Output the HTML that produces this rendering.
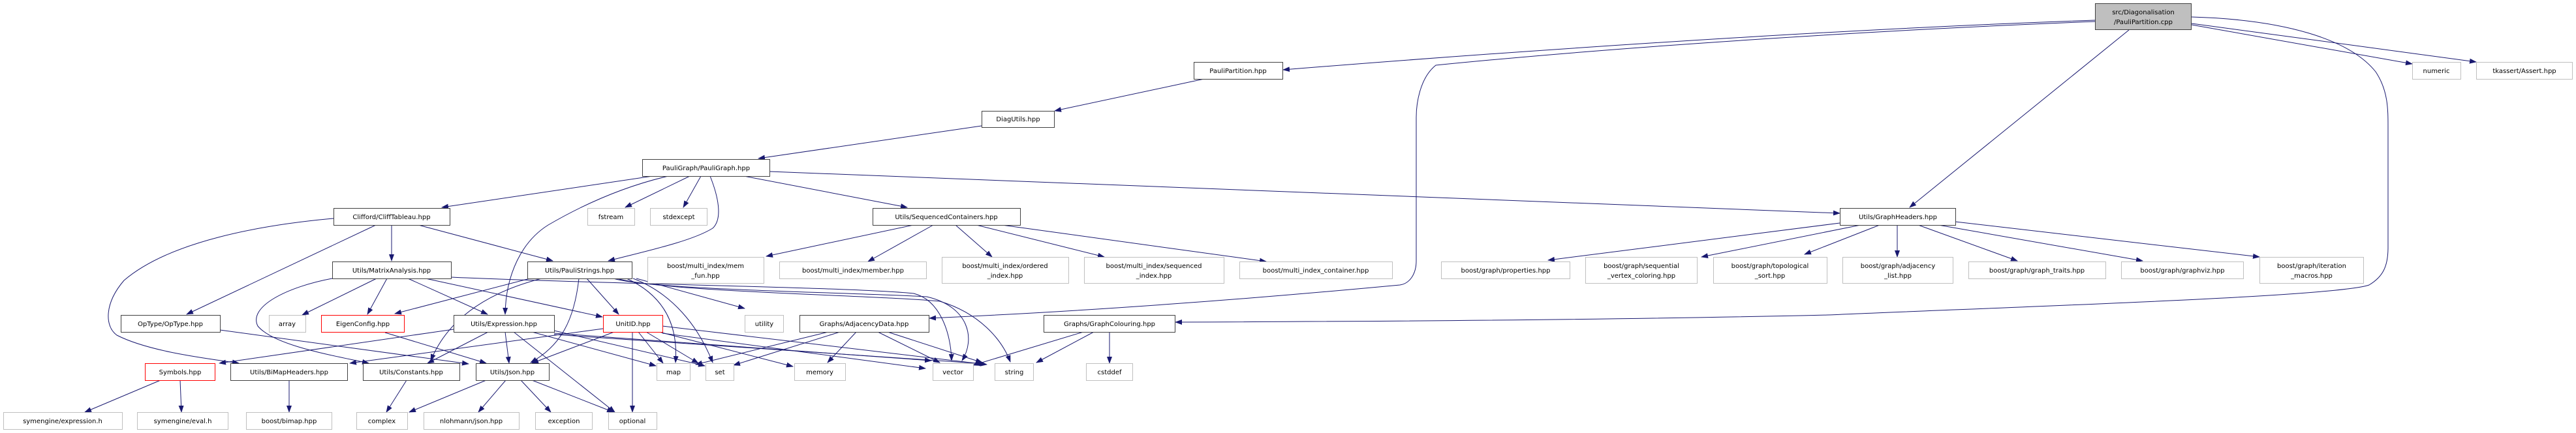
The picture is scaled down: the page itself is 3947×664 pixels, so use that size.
<!DOCTYPE html>
<html><head><meta charset="utf-8"><style>
html,body{margin:0;padding:0;background:#fff;}
svg{display:block;}
text{font-family:"DejaVu Sans","Liberation Sans",sans-serif;font-size:10px;fill:#000;text-anchor:middle;}
.d{fill:#fff;stroke:#404040;stroke-width:1;}
.e{fill:#fff;stroke:#bfbfbf;stroke-width:1;}
.r{fill:#fff;stroke:#ff0000;stroke-width:1;}
.s{fill:#bfbfbf;stroke:#404040;stroke-width:1;}
path{fill:none;stroke:#191970;stroke-width:1;}
</style></head><body>
<svg width="3947" height="664" viewBox="0 0 3947 664" xmlns="http://www.w3.org/2000/svg">
<defs><marker id="a" markerWidth="11" markerHeight="8" refX="10" refY="4" orient="auto" markerUnits="userSpaceOnUse"><polygon points="0,0 11,4 0,8" fill="#191970"/></marker></defs>
<g marker-end="url(#a)">
<!-- src -->
<path d="M3210,31 C2800,45 2300,80 1966,107"/>
<path d="M3210,33 C2900,45 2500,70 2200,100 C2175,120 2170,160 2170,180 L2170,400 C2170,420 2160,435 2145,437 C1900,460 1650,478 1424,488"/>
<path d="M3262,46 L2926,318"/>
<path d="M3358,38 L3696,98"/>
<path d="M3358,36 L3794,95"/>
<path d="M3358,26 C3500,30 3600,60 3640,110 C3660,140 3659,170 3659,200 L3659,380 C3659,410 3650,425 3630,437 C3580,455 3100,470 2800,483 C2500,490 2100,493 1801,494"/>
<!-- PP, Diag -->
<path d="M1845,121 L1616,170"/>
<path d="M1504,193 L1162,243"/>
<!-- PG -->
<path d="M1179,263 L2819,327"/>
<path d="M1000,270 L677,318"/>
<path d="M1024,270 C960,285 900,310 840,345 C800,370 775,420 774,482"/>
<path d="M1057,270 L958,318"/>
<path d="M1074,270 L1047,318"/>
<path d="M1088,270 C1100,300 1108,335 1092,350 C1060,370 990,385 932,400"/>
<path d="M1140,270 L1390,318"/>
<!-- Cliff -->
<path d="M600,345 L600,400"/>
<path d="M576,345 L286,482"/>
<path d="M511,335 C400,345 260,370 190,430 C160,465 160,500 179,514 C230,540 320,550 366,557"/>
<path d="M641,345 L847,400"/>
<!-- MA -->
<path d="M577,427 L463,483"/>
<path d="M593,427 L563,482"/>
<path d="M509,427 C440,440 380,470 395,500 C420,530 510,545 565,557"/>
<path d="M625,427 L747,482"/>
<path d="M652,427 L923,486"/>
<path d="M691,425 C900,435 1300,440 1400,450 C1440,460 1457,510 1458,553"/>
<!-- PS -->
<path d="M812,427 L605,481"/>
<path d="M830,427 C760,445 690,480 660,553"/>
<path d="M887,427 C880,490 860,530 813,556"/>
<path d="M899,427 L948,482"/>
<path d="M960,427 C1010,450 1040,490 1035,556"/>
<path d="M970,427 C1030,450 1070,500 1092,556"/>
<path d="M975,427 L1141,473"/>
<path d="M940,427 C1000,445 1300,448 1420,455 C1485,470 1495,520 1474,553"/>
<path d="M945,427 C1020,448 1330,452 1440,462 C1500,480 1535,520 1548,555"/>
<!-- Expr -->
<path d="M695,505 L336,557"/>
<path d="M748,509 L655,557"/>
<path d="M774,509 L780,557"/>
<path d="M815,509 L1005,561"/>
<path d="M849,507 L1080,561"/>
<path d="M787,509 L942,632"/>
<path d="M849,511 L1427,553"/>
<path d="M849,513 L1510,558"/>
<!-- OpType, Eigen -->
<path d="M337,506 L718,558"/>
<path d="M590,510 L745,557"/>
<!-- UnitID -->
<path d="M924,504 L536,557"/>
<path d="M941,509 L815,557"/>
<path d="M978,509 L1016,557"/>
<path d="M990,509 L1070,557"/>
<path d="M1010,509 L1215,562"/>
<path d="M969,509 L969,632"/>
<path d="M1015,511 L1418,565"/>
<path d="M1015,500 L1512,559"/>
<!-- AdjD -->
<path d="M1269,509 L1066,559"/>
<path d="M1287,509 L1124,560"/>
<path d="M1312,509 L1268,556"/>
<path d="M1345,509 L1440,556"/>
<path d="M1360,509 L1505,556"/>
<!-- GC -->
<path d="M1660,509 L1491,560"/>
<path d="M1676,509 L1588,556"/>
<path d="M1700,509 L1700,557"/>
<!-- Json, Const, Symbols, BiMap -->
<path d="M745,583 L627,632"/>
<path d="M775,583 L733,632"/>
<path d="M798,583 L844,632"/>
<path d="M815,583 L940,632"/>
<path d="M623,583 L592,632"/>
<path d="M246,583 L130,632"/>
<path d="M276,583 L278,632"/>
<path d="M443,583 L443,632"/>
<!-- Seq -->
<path d="M1400,345 L1174,393"/>
<path d="M1430,345 L1330,401"/>
<path d="M1464,345 L1520,394"/>
<path d="M1496,345 L1692,394"/>
<path d="M1535,345 L1940,401"/>
<!-- GH -->
<path d="M2819,342 L2372,399"/>
<path d="M2851,345 L2607,394"/>
<path d="M2880,345 L2765,390"/>
<path d="M2907,345 L2907,394"/>
<path d="M2939,345 L3091,400"/>
<path d="M2970,345 L3283,400"/>
<path d="M2996,340 L3462,394"/>
</g>
<!-- nodes -->
<rect class="s" x="3210.5" y="5.5" width="147" height="40"/><text x="3284" y="22">src/Diagonalisation</text><text x="3284" y="37">/PauliPartition.cpp</text>
<rect class="d" x="1829.5" y="95.5" width="136" height="26"/><text x="1897" y="112">PauliPartition.hpp</text>
<rect class="e" x="3696.5" y="95.5" width="74" height="26"/><text x="3733" y="112">numeric</text>
<rect class="e" x="3794.5" y="95.5" width="147" height="26"/><text x="3868" y="112">tkassert/Assert.hpp</text>
<rect class="d" x="1504.5" y="170.5" width="111" height="25"/><text x="1560" y="186">DiagUtils.hpp</text>
<rect class="d" x="984.5" y="244.5" width="195" height="26"/><text x="1082" y="261">PauliGraph/PauliGraph.hpp</text>
<rect class="d" x="511.5" y="319.5" width="178" height="26"/><text x="600" y="336">Clifford/CliffTableau.hpp</text>
<rect class="e" x="900.5" y="319.5" width="72" height="26"/><text x="936" y="336">fstream</text>
<rect class="e" x="996.5" y="319.5" width="87" height="26"/><text x="1040" y="336">stdexcept</text>
<rect class="d" x="1337.5" y="319.5" width="226" height="26"/><text x="1450" y="336">Utils/SequencedContainers.hpp</text>
<rect class="d" x="2819.5" y="319.5" width="177" height="26"/><text x="2908" y="336">Utils/GraphHeaders.hpp</text>
<rect class="d" x="509.5" y="401.5" width="182" height="26"/><text x="600" y="418">Utils/MatrixAnalysis.hpp</text>
<rect class="d" x="808.5" y="401.5" width="160" height="26"/><text x="888" y="418">Utils/PauliStrings.hpp</text>
<rect class="e" x="992.5" y="394.5" width="178" height="40"/><text x="1081" y="411">boost/multi_index/mem</text><text x="1081" y="426">_fun.hpp</text>
<rect class="e" x="1194.5" y="401.5" width="225" height="26"/><text x="1307" y="418">boost/multi_index/member.hpp</text>
<rect class="e" x="1443.5" y="394.5" width="194" height="40"/><text x="1540" y="411">boost/multi_index/ordered</text><text x="1540" y="426">_index.hpp</text>
<rect class="e" x="1661.5" y="394.5" width="214" height="40"/><text x="1768" y="411">boost/multi_index/sequenced</text><text x="1768" y="426">_index.hpp</text>
<rect class="e" x="1899.5" y="401.5" width="234" height="26"/><text x="2016" y="418">boost/multi_index_container.hpp</text>
<rect class="e" x="2208.5" y="401.5" width="197" height="26"/><text x="2307" y="418">boost/graph/properties.hpp</text>
<rect class="e" x="2429.5" y="394.5" width="171" height="40"/><text x="2515" y="411">boost/graph/sequential</text><text x="2515" y="426">_vertex_coloring.hpp</text>
<rect class="e" x="2625.5" y="394.5" width="174" height="40"/><text x="2712" y="411">boost/graph/topological</text><text x="2712" y="426">_sort.hpp</text>
<rect class="e" x="2823.5" y="394.5" width="169" height="40"/><text x="2908" y="411">boost/graph/adjacency</text><text x="2908" y="426">_list.hpp</text>
<rect class="e" x="3016.5" y="401.5" width="210" height="26"/><text x="3121" y="418">boost/graph/graph_traits.hpp</text>
<rect class="e" x="3250.5" y="401.5" width="187" height="26"/><text x="3344" y="418">boost/graph/graphviz.hpp</text>
<rect class="e" x="3462.5" y="394.5" width="159" height="40"/><text x="3542" y="411">boost/graph/iteration</text><text x="3542" y="426">_macros.hpp</text>
<rect class="d" x="185.5" y="483.5" width="152" height="26"/><text x="261" y="500">OpType/OpType.hpp</text>
<rect class="e" x="412.5" y="483.5" width="56" height="26"/><text x="440" y="500">array</text>
<rect class="r" x="492.5" y="483.5" width="127" height="26"/><text x="556" y="500">EigenConfig.hpp</text>
<rect class="d" x="695.5" y="483.5" width="154" height="26"/><text x="772" y="500">Utils/Expression.hpp</text>
<rect class="r" x="924.5" y="483.5" width="91" height="26"/><text x="970" y="500">UnitID.hpp</text>
<rect class="e" x="1141.5" y="483.5" width="59" height="26"/><text x="1171" y="500">utility</text>
<rect class="d" x="1225.5" y="483.5" width="198" height="26"/><text x="1324" y="500">Graphs/AdjacencyData.hpp</text>
<rect class="d" x="1599.5" y="483.5" width="201" height="26"/><text x="1700" y="500">Graphs/GraphColouring.hpp</text>
<rect class="r" x="222.5" y="557.5" width="107" height="26"/><text x="276" y="574">Symbols.hpp</text>
<rect class="d" x="353.5" y="557.5" width="179" height="26"/><text x="443" y="574">Utils/BiMapHeaders.hpp</text>
<rect class="d" x="556.5" y="557.5" width="148" height="26"/><text x="630" y="574">Utils/Constants.hpp</text>
<rect class="d" x="729.5" y="557.5" width="112" height="26"/><text x="785" y="574">Utils/Json.hpp</text>
<rect class="e" x="1006.5" y="557.5" width="51" height="26"/><text x="1032" y="574">map</text>
<rect class="e" x="1081.5" y="557.5" width="43" height="26"/><text x="1103" y="574">set</text>
<rect class="e" x="1217.5" y="557.5" width="78" height="26"/><text x="1256" y="574">memory</text>
<rect class="e" x="1429.5" y="557.5" width="62" height="26"/><text x="1460" y="574">vector</text>
<rect class="e" x="1524.5" y="557.5" width="59" height="26"/><text x="1554" y="574">string</text>
<rect class="e" x="1664.5" y="557.5" width="71" height="26"/><text x="1700" y="574">cstddef</text>
<rect class="e" x="5.5" y="632.5" width="182" height="26"/><text x="96" y="649">symengine/expression.h</text>
<rect class="e" x="210.5" y="632.5" width="139" height="26"/><text x="280" y="649">symengine/eval.h</text>
<rect class="e" x="377.5" y="632.5" width="131" height="26"/><text x="443" y="649">boost/bimap.hpp</text>
<rect class="e" x="546.5" y="632.5" width="78" height="26"/><text x="585" y="649">complex</text>
<rect class="e" x="649.5" y="632.5" width="146" height="26"/><text x="722" y="649">nlohmann/json.hpp</text>
<rect class="e" x="820.5" y="632.5" width="87" height="26"/><text x="864" y="649">exception</text>
<rect class="e" x="932.5" y="632.5" width="74" height="26"/><text x="969" y="649">optional</text>
</svg>
</body></html>
